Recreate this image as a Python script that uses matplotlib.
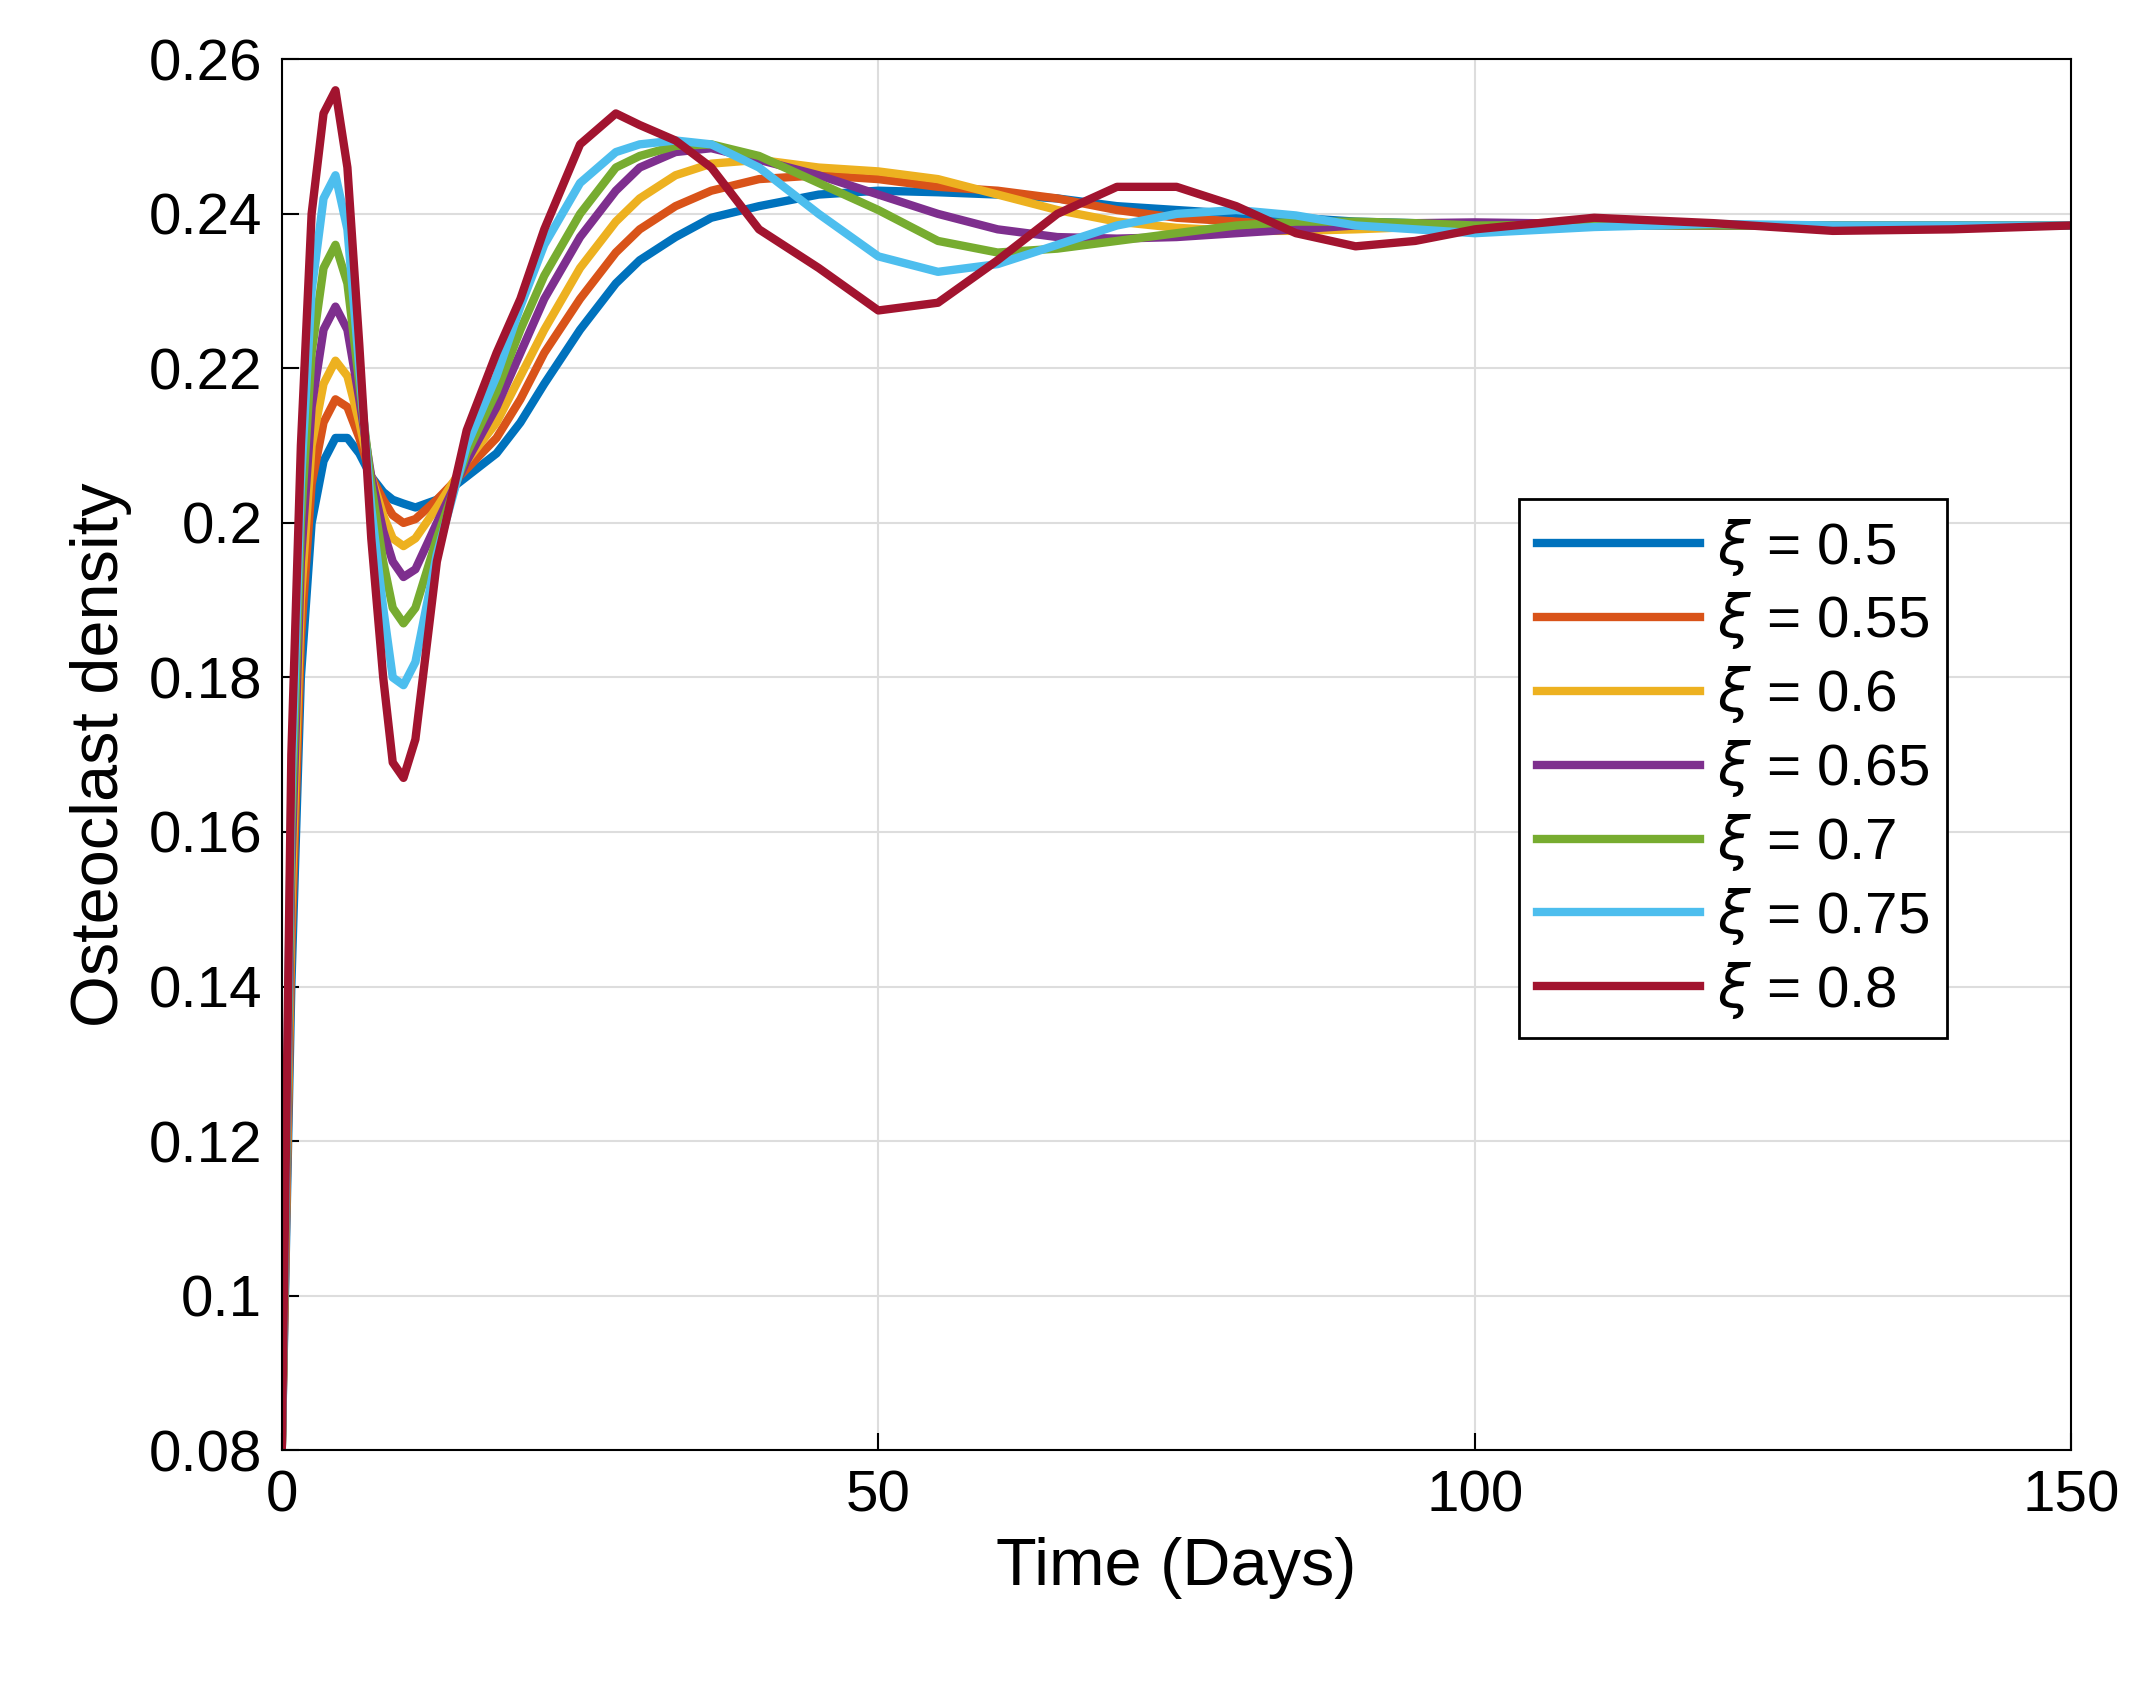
import matplotlib
matplotlib.use("Agg")
import matplotlib.pyplot as plt

# sample times (days)
t = [0, 0.8, 1.6, 2.5, 3.5, 4.5, 5.5, 6.5, 7.5, 8.5, 9.3, 10.2, 11.2, 13, 15.5, 18, 20, 22, 25, 28, 30, 33, 36, 40,
     45, 50, 55, 60, 65, 70, 75, 80, 85, 90, 95, 100, 110, 120, 130, 140, 150]

xi_labels = ["0.5", "0.55", "0.6", "0.65", "0.7", "0.75", "0.8"]

y_05 = [0.08, 0.14, 0.18, 0.200, 0.208, 0.211, 0.211, 0.209, 0.206, 0.204, 0.203, 0.2025, 0.202, 0.203,
        0.206, 0.209, 0.213, 0.218, 0.225, 0.231, 0.234, 0.237, 0.2395, 0.241, 0.2425, 0.243, 0.2428,
        0.2425, 0.242, 0.241, 0.2405, 0.240, 0.2395, 0.239, 0.2388, 0.2386, 0.2385, 0.2385, 0.2385, 0.2385, 0.2385]
y_055 = [0.08, 0.145, 0.185, 0.205, 0.213, 0.216, 0.215, 0.211, 0.206, 0.203, 0.201, 0.200, 0.2005, 0.203,
         0.207, 0.211, 0.216, 0.222, 0.229, 0.235, 0.238, 0.241, 0.243, 0.2445, 0.245, 0.2445, 0.2435,
         0.243, 0.242, 0.2405, 0.2395, 0.239, 0.2385, 0.2382, 0.2382, 0.2385, 0.2386, 0.2385, 0.2385, 0.2385, 0.2385]
y_06 = [0.08, 0.15, 0.19, 0.21, 0.218, 0.221, 0.219, 0.213, 0.206, 0.201, 0.198, 0.197, 0.198, 0.202,
        0.208, 0.213, 0.219, 0.225, 0.233, 0.239, 0.242, 0.245, 0.2465, 0.247, 0.246, 0.2455, 0.2445,
        0.2425, 0.2405, 0.239, 0.2382, 0.2378, 0.2378, 0.238, 0.2383, 0.2386, 0.2387, 0.2385, 0.2385, 0.2385, 0.2385]
y_065 = [0.08, 0.155, 0.195, 0.215, 0.225, 0.228, 0.225, 0.216, 0.206, 0.199, 0.195, 0.193, 0.194, 0.200,
         0.208, 0.215, 0.222, 0.229, 0.237, 0.243, 0.246, 0.248, 0.2485, 0.247, 0.245, 0.2425, 0.240,
         0.238, 0.237, 0.2368, 0.237, 0.2375, 0.238, 0.2385, 0.2388, 0.2389, 0.2387, 0.2385, 0.2385, 0.2385, 0.2385]
y_07 = [0.08, 0.16, 0.2, 0.222, 0.233, 0.236, 0.231, 0.218, 0.205, 0.195, 0.189, 0.187, 0.189, 0.198,
        0.209, 0.217, 0.225, 0.232, 0.240, 0.246, 0.2475, 0.2488, 0.249, 0.2475, 0.244, 0.2405, 0.2365,
        0.235, 0.2355, 0.2365, 0.2375, 0.2385, 0.239, 0.239, 0.2388, 0.2385, 0.2386, 0.2385, 0.2385, 0.2385, 0.2385]
y_075 = [0.08, 0.165, 0.205, 0.23, 0.242, 0.245, 0.238, 0.220, 0.202, 0.189, 0.180, 0.179, 0.182, 0.196,
         0.210, 0.219, 0.228, 0.236, 0.244, 0.248, 0.249, 0.2495, 0.249, 0.246, 0.240, 0.2345, 0.2325,
         0.2335, 0.236, 0.2385, 0.240, 0.2405, 0.2398, 0.2385, 0.238, 0.2375, 0.2383, 0.2387, 0.2385, 0.2385, 0.2385]
y_08 = [0.08, 0.17, 0.21, 0.24, 0.253, 0.256, 0.246, 0.223, 0.198, 0.180, 0.169, 0.167, 0.172, 0.195,
        0.212, 0.222, 0.229, 0.238, 0.249, 0.253, 0.2515, 0.2495, 0.246, 0.238, 0.233, 0.2275, 0.2285,
        0.234, 0.240, 0.2435, 0.2435, 0.241, 0.2375, 0.2358, 0.2365, 0.238, 0.2395, 0.2388, 0.2378, 0.238, 0.2385]

series = [y_05, y_055, y_06, y_065, y_07, y_075, y_08]
colors = ["#0072BD", "#D95319", "#EDB120", "#7E2F8E", "#77AC30", "#4DBEEE", "#A2142F"]

plt.rcParams["font.family"] = "Liberation Sans"
fig = plt.figure(figsize=(21.51, 16.96), dpi=100)
ax = fig.add_axes([0.131, 0.145, 0.832, 0.82])

for y, c, lab in zip(series, colors, xi_labels):
    ax.plot(t, y, color=c, lw=6, label=r"$\xi$ = " + lab)

ax.set_xlim(0, 150)
ax.set_ylim(0.08, 0.26)
ax.set_xticks([0, 50, 100, 150])
ax.set_yticks([0.08, 0.1, 0.12, 0.14, 0.16, 0.18, 0.2, 0.22, 0.24, 0.26])
ax.set_yticklabels(["0.08", "0.1", "0.12", "0.14", "0.16", "0.18", "0.2", "0.22", "0.24", "0.26"])
ax.grid(True, color="#dddddd", lw=1.5)
ax.tick_params(labelsize=42, direction="in", length=12, width=1.5, pad=14)
for s in ax.spines.values():
    s.set_linewidth(1.5)
ax.set_xlabel("Time (Days)", fontsize=48, labelpad=10)
ax.set_ylabel("Osteoclast density", fontsize=48, labelpad=12)

leg = ax.legend(loc="center right", bbox_to_anchor=(0.947, 0.49), fontsize=42, fancybox=False,
                edgecolor="black", framealpha=1, handlelength=2.8, handletextpad=0.3,
                labelspacing=0.22, borderpad=0.3)
leg.get_frame().set_linewidth(2)

fig.savefig("out.png", dpi=100)
